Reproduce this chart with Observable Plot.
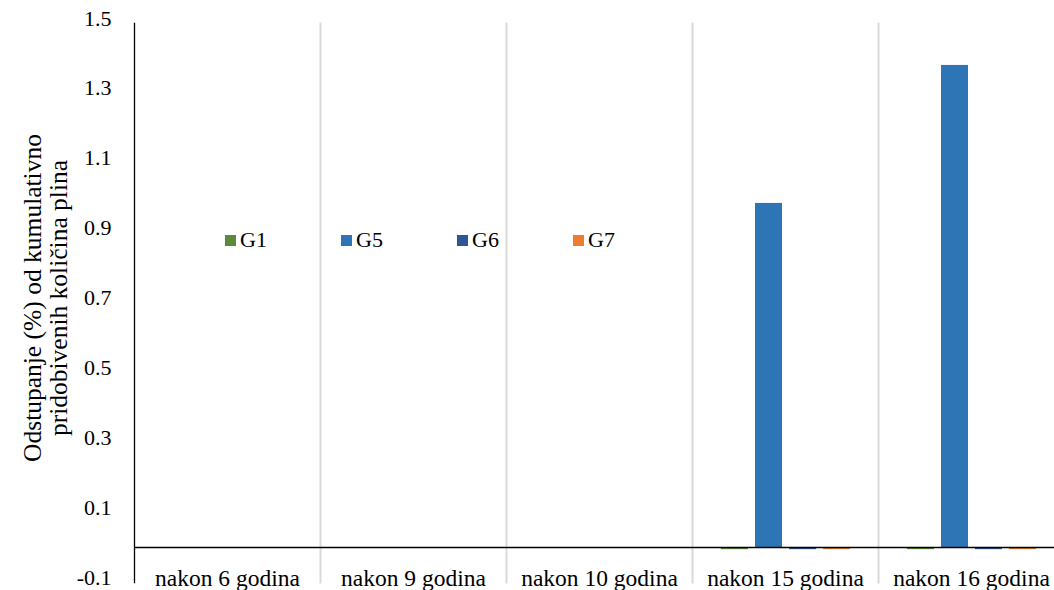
<!DOCTYPE html>
<html>
<head>
<meta charset="utf-8">
<script src="https://cdn.jsdelivr.net/npm/d3@7"></script>
<script src="https://cdn.jsdelivr.net/npm/@observablehq/plot@0.6"></script>
<style>
  html, body { margin: 0; padding: 0; background: #fff; }
  #wrap { position: relative; width: 1054px; height: 590px; font-family: "Liberation Serif", "Times New Roman", serif; }
  #legend { position: absolute; left: 225px; top: 227px; display: flex; font-size: 22px; color: #000; }
  #legend .item { width: 116px; display: flex; align-items: center; }
  #legend .sw { width: 11px; height: 11px; margin-right: 4px; }
</style>
</head>
<body>
<div id="wrap"></div>
<script>
const categories = ["nakon 6 godina", "nakon 9 godina", "nakon 10 godina", "nakon 15 godina", "nakon 16 godina"];
const seriesNames = ["G1", "G5", "G6", "G7"];
const G1 = [0, 0, 0, -0.006, -0.006];
const G5 = [0, 0, 0, 0.985, 1.38];
const G6 = [0, 0, 0, -0.006, -0.006];
const G7 = [0, 0, 0, -0.006, -0.006];
const colors = ["#5b8a3a", "#2e75b6", "#2f5597", "#ed7d31"];
const yTicks = [-0.1, 0.1, 0.3, 0.5, 0.7, 0.9, 1.1, 1.3, 1.5];
const yTitle = "Odstupanje (%) od kumulativno\npridobivenih količina plina";

const seriesValues = [G1, G5, G6, G7];
const rows = [];
categories.forEach((c, i) => {
  seriesNames.forEach((s, j) => rows.push({category: c, series: s, value: seriesValues[j][i]}));
});

const font = '"Liberation Serif", "Times New Roman", serif';
const fmt = d => d.toFixed(1);
const hasAxisMark = typeof Plot.axisY === "function";

const yOpts = {domain: [-0.1, 1.5], label: null};
if (hasAxisMark) {
  yOpts.axis = null;
} else {
  Object.assign(yOpts, {ticks: yTicks, tickFormat: fmt, tickSize: 0, tickPadding: 23});
}

const marks = [
  Plot.frame({anchor: "left", stroke: "#000", strokeWidth: 1.3, facetAnchor: "left"}),
  Plot.frame({anchor: "right", stroke: "#d9d9d9", strokeWidth: 2}),
  Plot.barY(rows, {fx: "category", x: "series", y: "value", fill: "series"}),
  Plot.ruleY([0], {stroke: "#000", strokeWidth: 1.5}),
  Plot.text(categories, {fx: d => d, text: d => d, frameAnchor: "bottom", lineAnchor: "middle", dy: -4, fontSize: 23.5, fill: "#000"}),
  Plot.text([categories[0]], {fx: d => d, text: () => yTitle, frameAnchor: "left", rotate: -90, dx: -89, dy: -5, lineAnchor: "middle", textAnchor: "middle", lineHeight: 1.05, fontSize: 25.5, fill: "#000"})
];
if (hasAxisMark) {
  marks.unshift(Plot.axisY(yTicks, {tickFormat: fmt, tickSize: 0, tickPadding: 23, dy: -5, fontSize: 22, fill: "#000", label: null}));
}

const chart = Plot.plot({
  width: 1054,
  height: 590,
  marginLeft: 134,
  marginRight: -10,
  marginTop: 23,
  marginBottom: 8,
  style: {fontFamily: font, fontSize: "22px", color: "#000", background: "#fff"},
  fx: {domain: categories, padding: 0, axis: null, label: null},
  x: {domain: seriesNames, paddingInner: 0.22, paddingOuter: 0.845, axis: null},
  y: yOpts,
  color: {domain: seriesNames, range: colors},
  marks
});

const wrap = document.getElementById("wrap");
wrap.appendChild(chart);
const legend = document.createElement("div");
legend.id = "legend";
seriesNames.forEach((s, i) => {
  const item = document.createElement("div");
  item.className = "item";
  const sw = document.createElement("span");
  sw.className = "sw";
  sw.style.background = colors[i];
  const t = document.createElement("span");
  t.textContent = s;
  item.appendChild(sw);
  item.appendChild(t);
  legend.appendChild(item);
});
wrap.appendChild(legend);
</script>
</body>
</html>
